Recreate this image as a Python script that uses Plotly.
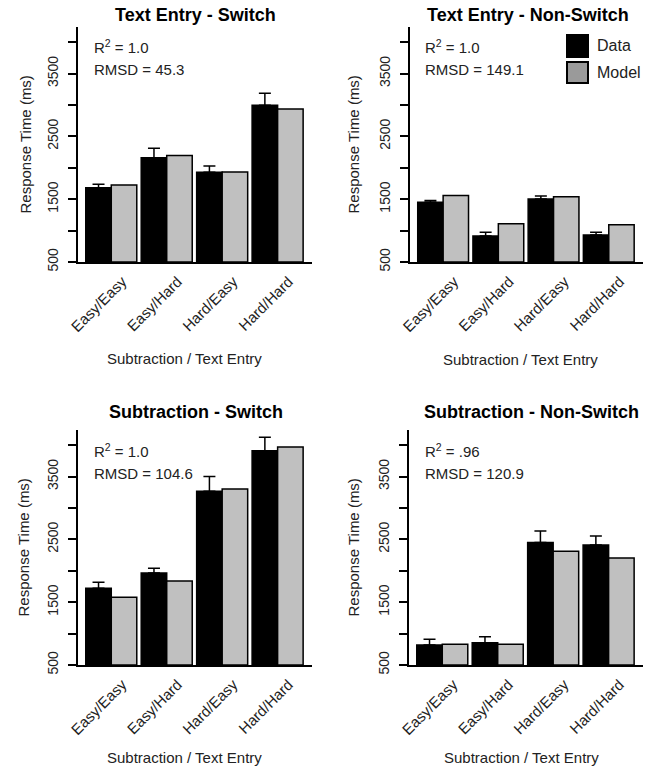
import plotly.graph_objects as go

# ---- data ----
conditions = ["Easy/Easy", "Easy/Hard", "Hard/Easy", "Hard/Hard"]

te_switch_data = [1683, 2161, 1928, 2995]
te_switch_err = [1737, 2310, 2029, 3186]
te_switch_model = [1726, 2193, 1933, 2936]

te_nonswitch_data = [1451, 914, 1503, 930]
te_nonswitch_err = [1478, 973, 1551, 973]
te_nonswitch_model = [1557, 1109, 1540, 1094]

sub_switch_data = [1721, 1965, 3266, 3908]
sub_switch_err = [1817, 2040, 3498, 4126]
sub_switch_model = [1578, 1838, 3303, 3971]

sub_nonswitch_data = [818, 855, 2448, 2411]
sub_nonswitch_err = [909, 951, 2634, 2554]
sub_nonswitch_model = [829, 829, 2310, 2204]

panel_titles = ["Text Entry - Switch", "Text Entry - Non-Switch",
                "Subtraction - Switch", "Subtraction - Non-Switch"]
r2_labels = ["1.0", "1.0", "1.0", ".96"]
rmsd_labels = ["45.3", "149.1", "104.6", "120.9"]
legend_labels = ["Data", "Model"]

W, H = 657, 767
FONT = "Liberation Sans, Arial, Helvetica, sans-serif"
DATA_COLOR = "#000000"
MODEL_COLOR = "#c0c0c0"
LEGEND_MODEL_COLOR = "#9a9a9a"

panels = [
    (te_switch_data, te_switch_err, te_switch_model),
    (te_nonswitch_data, te_nonswitch_err, te_nonswitch_model),
    (sub_switch_data, sub_switch_err, sub_switch_model),
    (sub_nonswitch_data, sub_nonswitch_err, sub_nonswitch_model),
]

# pixel geometry: (left, right, top, bottom)
geom = [
    (78, 312, 27, 262),
    (410, 643, 27, 262),
    (78, 312, 430, 665),
    (409, 643, 430, 665),
]
title_pos = [(195, 15), (528, 15), (196, 412), (531, 412)]
xtitle_pos = [(184, 358), (520, 360), (184, 757), (521, 757)]
ytitle_x = [25, 353, 23, 353]
stat_x = [92, 423, 92, 423]

fig = go.Figure()
annotations = []
shapes = []

for i, (d, e, m) in enumerate(panels):
    xa = "x" if i == 0 else f"x{i+1}"
    ya = "y" if i == 0 else f"y{i+1}"
    err_plus = [ev - dv for ev, dv in zip(e, d)]
    fig.add_trace(go.Bar(
        x=conditions, y=[v - 500 for v in d], base=500,
        marker=dict(color=DATA_COLOR, line=dict(color="black", width=1.5)),
        error_y=dict(type="data", symmetric=False, array=err_plus,
                     arrayminus=[0] * 4, color="black", thickness=1.5, width=6),
        xaxis=xa, yaxis=ya, showlegend=False, name="Data",
    ))
    fig.add_trace(go.Bar(
        x=conditions, y=[v - 500 for v in m], base=500,
        marker=dict(color=MODEL_COLOR, line=dict(color="black", width=1.5)),
        xaxis=xa, yaxis=ya, showlegend=False, name="Model",
    ))
    l, r, t, b = geom[i]
    xkey = "xaxis" if i == 0 else f"xaxis{i+1}"
    ykey = "yaxis" if i == 0 else f"yaxis{i+1}"
    fig.layout[xkey] = dict(
        domain=[l / W, r / W], anchor=ya, range=[-0.6, 3.62],
        showline=True, linecolor="black", linewidth=2, ticks="",
        tickangle=-45, tickfont=dict(family=FONT, size=15, color="#222"),
        ticklabelshift=11, ticklabelstandoff=3,
        showgrid=False, zeroline=False, fixedrange=True, automargin=False,
    )
    fig.layout[ykey] = dict(
        domain=[1 - b / H, 1 - t / H], anchor=xa, range=[500, 4240],
        showline=True, linecolor="black", linewidth=2,
        ticks="outside", ticklen=8, tickwidth=1.5, tickcolor="black",
        tick0=500, dtick=1000, tickangle=-90,
        minor=dict(ticks="outside", ticklen=8, tickwidth=1.5, tickcolor="black",
                   tick0=500, dtick=500, showgrid=False),
        tickfont=dict(family=FONT, size=14, color="#222"),
        ticklabelstandoff=4,
        showgrid=False, zeroline=False, fixedrange=True, automargin=False,
    )
    tx, ty = title_pos[i]
    annotations.append(dict(text="<b>" + panel_titles[i] + "</b>", x=tx / W, y=1 - ty / H,
                            xref="paper", yref="paper", showarrow=False,
                            xanchor="center", yanchor="middle",
                            font=dict(family=FONT, size=18, color="black")))
    ax_, ay_ = xtitle_pos[i]
    annotations.append(dict(text="Subtraction / Text Entry", x=ax_ / W, y=1 - ay_ / H,
                            xref="paper", yref="paper", showarrow=False,
                            xanchor="center", yanchor="middle",
                            font=dict(family=FONT, size=15, color="#222")))
    annotations.append(dict(text="Response Time (ms)", x=ytitle_x[i] / W,
                            y=1 - ((t + b) / 2) / H, textangle=-90,
                            xref="paper", yref="paper", showarrow=False,
                            xanchor="center", yanchor="middle",
                            font=dict(family=FONT, size=15, color="#222")))
    annotations.append(dict(text="R<sup>2</sup> = " + r2_labels[i], x=stat_x[i] / W,
                            y=1 - (t + 20) / H,
                            xref="paper", yref="paper", showarrow=False,
                            xanchor="left", yanchor="middle",
                            font=dict(family=FONT, size=15, color="#222")))
    annotations.append(dict(text="RMSD = " + rmsd_labels[i], x=stat_x[i] / W,
                            y=1 - (t + 43) / H,
                            xref="paper", yref="paper", showarrow=False,
                            xanchor="left", yanchor="middle",
                            font=dict(family=FONT, size=15, color="#222")))

# legend (top-right panel)
leg_boxes = [(567, 588, 35, 57, DATA_COLOR), (567, 588, 62, 83, LEGEND_MODEL_COLOR)]
for (x0, x1, y0, y1, c), lab in zip(leg_boxes, legend_labels):
    shapes.append(dict(type="rect", xref="paper", yref="paper",
                       x0=x0 / W, x1=x1 / W, y0=1 - y1 / H, y1=1 - y0 / H,
                       fillcolor=c, line=dict(color="black", width=2)))
    annotations.append(dict(text=lab, x=595 / W, y=1 - ((y0 + y1) / 2) / H,
                            xref="paper", yref="paper", showarrow=False,
                            xanchor="left", yanchor="middle",
                            font=dict(family=FONT, size=16, color="#222")))

fig.update_layout(
    template="none",
    width=W, height=H, margin=dict(l=0, r=0, t=0, b=0, pad=0, autoexpand=False),
    paper_bgcolor="white", plot_bgcolor="white",
    barmode="group", bargap=0.08, bargroupgap=0,
    annotations=annotations, shapes=shapes, showlegend=False,
)

fig.write_html("out.html", config={"displayModeBar": False},
               post_script="document.body.style.margin='0';document.body.style.overflow='hidden';")
